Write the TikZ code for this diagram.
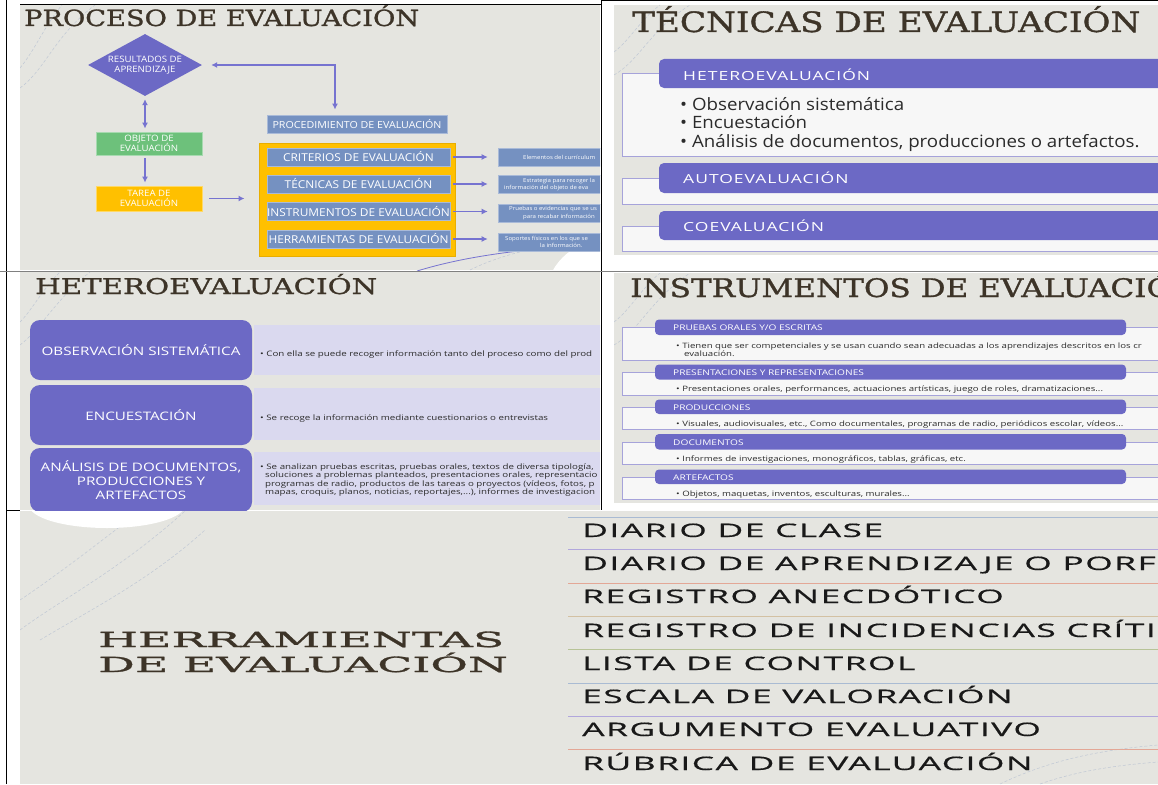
\documentclass[tikz,border=0pt]{standalone}
\usepackage{fontspec}
\setmainfont{Open Sans}
\newfontfamily\ttlA[FakeStretch=1.22,FakeBold=1.2]{DejaVu Serif}
\newfontfamily\ttlB[FakeStretch=1.35,FakeBold=1.2]{DejaVu Serif}
\newfontfamily\ttlC[FakeStretch=2.2,FakeBold=1.4]{DejaVu Serif}
\newfontfamily\sfA[FakeStretch=1.1]{Open Sans}
\newfontfamily\capsA[FakeStretch=1.4,LetterSpace=8]{Open Sans}
\newfontfamily\sfB[FakeStretch=1.3]{Open Sans}
\newfontfamily\listsf[FakeStretch=1.9,LetterSpace=8,FakeBold=0.6]{Open Sans}
\usetikzlibrary{shapes.geometric,arrows.meta}
\definecolor{slidebg}{HTML}{E5E5E0}
\definecolor{moradoa}{HTML}{6C69C5}
\definecolor{lavanda}{HTML}{DAD9EF}
\definecolor{azulcaja}{HTML}{7591C1}
\definecolor{azulborde}{HTML}{A9BAD8}
\definecolor{verde}{HTML}{6DC17B}
\definecolor{oro}{HTML}{FFC000}
\definecolor{oroborde}{HTML}{E8AE00}
\definecolor{cafe}{HTML}{3D3428}
\definecolor{flecha}{HTML}{7673D0}
\definecolor{contorno}{HTML}{A6A3DA}
\definecolor{texto}{HTML}{2B2B2B}
\definecolor{deco}{HTML}{BFC7D4}
\definecolor{lineaA}{HTML}{A9BBD3}
\definecolor{lineaB}{HTML}{B1A7DC}
\definecolor{lineaC}{HTML}{E3A796}
\definecolor{lineaD}{HTML}{D3C1A3}
\definecolor{lineaE}{HTML}{B7C397}

\begin{document}
\begin{tikzpicture}[x=1pt,y=-1pt,
  slide/.style={fill=slidebg},
  ttl/.style={anchor=base west,inner sep=0pt,text=cafe},
  deco/.style={draw=deco,line width=.5pt,dash pattern=on 3pt off 2pt},
  caja/.style={fill=azulcaja,draw=azulborde,line width=.8pt,text=white,inner sep=0pt,minimum width=183pt,minimum height=18pt,font=\sfA\fontsize{10.8}{12}\selectfont},
  desc/.style={fill=azulcaja,draw=azulborde,line width=.6pt,minimum width=118pt,minimum height=18pt,inner sep=0pt},
  mini/.style={anchor=base west,inner sep=0pt,text=white,font=\sfA\fontsize{5.5}{6}\selectfont},
  arr/.style={draw=flecha,line width=1.3pt,-{Latex[length=6pt,width=6pt]}},
  arrdos/.style={draw=flecha,line width=1.3pt,{Latex[length=6pt,width=6pt]}-{Latex[length=6pt,width=6pt]}},
  marco/.style={fill=white!97!black,draw=contorno,line width=.7pt},
  cabecera/.style={fill=moradoa,rounded corners=5pt},
  cabtexto/.style={anchor=base west,inner sep=0pt,text=white},
  cuerpo/.style={anchor=base west,inner sep=0pt,text=texto},
  bloque/.style={fill=moradoa,rounded corners=10pt,text=white,align=center,inner sep=0pt,minimum width=222pt,font=\sfB\fontsize{11.7}{14}\selectfont},
  itemlista/.style={anchor=base west,inner sep=0pt,text=black!90,font=\listsf\fontsize{18.6}{20}\selectfont}]

\fill[white] (0,0) rectangle (1158,784);
\useasboundingbox (0,0) rectangle (1158,784);

% proceso de evaluacion
\fill[slide] (20,5) rectangle (600,270);
\begin{scope}
\clip (20,5) rectangle (600,270);
\draw[deco] (20,88) .. controls (45,70) and (55,35) .. (95,5);
\draw[deco] (20,68) .. controls (35,50) and (45,25) .. (62,5);
\draw[deco] (470,270) .. controls (500,255) and (540,245) .. (600,238);
\fill[white] (605,300) circle (60);
\draw[flecha,line width=.8pt] (417,271) .. controls (470,255) and (520,250) .. (600,243);
\node[ttl,font=\ttlA\fontsize{22.3}{26}\selectfont] (tl-titulo) at (24,26) {PROCESO DE EVALUACIÓN};
\node[diamond,aspect=1.84,fill=moradoa,minimum width=114pt,minimum height=62pt,inner sep=0pt,text=white,align=center,font=\sfA\fontsize{8.8}{10}\selectfont] (res) at (145,65) {RESULTADOS DE\\APRENDIZAJE};
\node[fill=verde,draw=verde!60!white,line width=.8pt,minimum width=106pt,minimum height=23pt,inner sep=0pt,text=white,align=center,font=\sfA\fontsize{8.8}{10}\selectfont] (obj) at (149,143.5) {OBJETO DE\\EVALUACIÓN};
\node[fill=oro,draw=oro!60!white,line width=.8pt,minimum width=106pt,minimum height=25pt,inner sep=0pt,text=white,align=center,font=\sfA\fontsize{8.8}{10}\selectfont] (tarea) at (149,198.5) {TAREA DE\\EVALUACIÓN};
\node[caja,minimum width=180pt,font=\sfA\fontsize{9.7}{11}\selectfont] (proc) at (357,124) {PROCEDIMIENTO DE EVALUACIÓN};
\node[fill=oro,draw=oroborde,line width=1pt,minimum width=196pt,minimum height=113pt,inner sep=0pt] (panel) at (357,199.5) {};
\node[caja] (crit) at (358.5,157) {CRITERIOS DE EVALUACIÓN};
\node[caja] (tec) at (358.5,184) {TÉCNICAS DE EVALUACIÓN};
\node[caja] (inst) at (358.5,211.5) {INSTRUMENTOS DE EVALUACIÓN};
\node[caja] (herr) at (358.5,239) {HERRAMIENTAS DE EVALUACIÓN};
\node[desc] (d1) at (557,157) {};
\node[desc] (d2) at (557,184) {};
\node[desc] (d3) at (557,213) {};
\node[desc] (d4) at (557,242) {};
\node[mini] (d1a) at (523,159) {Elementos del currículum};
\node[mini] (d2a) at (523,182) {Estrategia para recoger la};
\node[mini] (d2b) at (504,189) {información del objeto de eva};
\node[mini] (d3a) at (509,210.5) {Pruebas o evidencias que se us};
\node[mini] (d3b) at (523,218) {para recabar información};
\node[mini] (d4a) at (505,240) {Soportes físicos en los que se};
\node[mini] (d4b) at (540,247.5) {la información.};
\draw[arrdos,shorten <=3pt,shorten >=3pt] (res.south) -- (res.south |- obj.north);
\draw[arr,shorten <=3pt,shorten >=3pt] (res.south |- obj.south) -- (res.south |- tarea.north);
\draw[arr,shorten <=7pt,shorten >=14pt] (tarea.east) -- (tarea.east -| panel.west);
\draw[arrdos,shorten <=9pt,shorten >=5pt] (res.east) -| ([xshift=-22pt]proc.north);
\draw[arr,shorten <=3pt,shorten >=10pt] (crit.east) -- (d1.west);
\draw[arr,shorten <=3pt,shorten >=10pt] (tec.east) -- (d2.west);
\draw[arr,shorten <=3pt,shorten >=10pt] (inst.east) -- (inst.east -| d3.west);
\draw[arr,shorten <=3pt,shorten >=10pt] (herr.east) -- (herr.east -| d4.west);
\end{scope}

% tecnicas
\fill[slide] (614,5) rectangle (1158,255);
\begin{scope}
\clip (614,5) rectangle (1158,255);
\draw[deco] (614,75) .. controls (640,60) and (650,30) .. (690,5);
\draw[deco] (614,52) .. controls (630,40) and (640,20) .. (660,5);
\node[ttl,font=\ttlA\fontsize{28}{32}\selectfont] (tr-titulo) at (632,32) {TÉCNICAS DE EVALUACIÓN};
\draw[marco] (622,73) rectangle (1170,156);
\fill[cabecera] (659,59) rectangle (1180,88);
\draw[marco] (622,178) rectangle (1170,204);
\fill[cabecera] (659,163) rectangle (1180,193);
\draw[marco] (622,226) rectangle (1170,251);
\fill[cabecera] (659,211) rectangle (1180,240);
\node[cabtexto,font=\capsA\fontsize{12.5}{14}\selectfont] (hetero) at (683,80) {HETEROEVALUACIÓN};
\node[cabtexto,font=\capsA\fontsize{12.5}{14}\selectfont] (auto) at (683,183) {AUTOEVALUACIÓN};
\node[cabtexto,font=\capsA\fontsize{12.5}{14}\selectfont] (coev) at (683,231) {COEVALUACIÓN};
\node[cuerpo,font=\sfA\fontsize{17}{19}\selectfont] (obs) at (680,110) {• Observación sistemática};
\node[cuerpo,font=\sfA\fontsize{17}{19}\selectfont] (enc) at (680,128.5) {• Encuestación};
\node[cuerpo,font=\sfA\fontsize{17}{19}\selectfont] (ana) at (680,147) {• Análisis de documentos, producciones o artefactos.};
\end{scope}

% heteroevaluacion
\fill[slide] (20,272) rectangle (600,510);
\begin{scope}
\clip (20,272) rectangle (600,510);
\draw[deco] (20,345) .. controls (40,330) and (55,300) .. (90,272);
\draw[deco] (20,322) .. controls (32,310) and (42,290) .. (60,272);
\node[ttl,font=\ttlB\fontsize{21.7}{26}\selectfont] (ml-titulo) at (35,294) {HETEROEVALUACIÓN};
\fill[lavanda] (254,325) rectangle (610,375);
\fill[lavanda] (254,388) rectangle (610,440);
\fill[lavanda] (254,452) rectangle (610,505);
\node[bloque,minimum height=60pt] (b-obs) at (141,350) {OBSERVACIÓN SISTEMÁTICA};
\node[bloque,minimum height=60pt] (b-enc) at (141,415) {ENCUESTACIÓN};
\node[bloque,minimum height=64pt] (b-ana) at (141,480) {ANÁLISIS DE DOCUMENTOS,\\PRODUCCIONES Y\\ARTEFACTOS};
\node[cuerpo,font=\sfB\fontsize{7.5}{8.3}\selectfont] (t-obs) at (260,356) {• Con ella se puede recoger información tanto del proceso como del prod};
\node[cuerpo,font=\sfB\fontsize{7.5}{8.3}\selectfont] (t-enc) at (260,420) {• Se recoge la información mediante cuestionarios o entrevistas};
\node[cuerpo,anchor=north west,align=left,font=\sfB\fontsize{7.5}{8.3}\selectfont] (t-ana) at (260,463.5) {• Se analizan pruebas escritas, pruebas orales, textos de diversa tipología,\\
\hspace*{5pt}soluciones a problemas planteados, presentaciones orales, representacio\\
\hspace*{5pt}programas de radio, productos de las tareas o proyectos (vídeos, fotos, p\\
\hspace*{5pt}mapas, croquis, planos, noticias, reportajes,...), informes de investigacion};
\end{scope}

% instrumentos
\fill[slide] (614,273) rectangle (1158,503);
\begin{scope}
\clip (614,273) rectangle (1158,503);
\draw[deco] (614,345) .. controls (640,330) and (650,300) .. (690,273);
\draw[deco] (614,322) .. controls (630,310) and (640,290) .. (660,273);
\node[ttl,font=\ttlA\fontsize{25.5}{28}\selectfont] (mr-titulo) at (630,297) {INSTRUMENTOS DE EVALUACIÓ};
\draw[marco] (622,327) rectangle (1170,360);
\fill[cabecera,rounded corners=4pt] (655,319.5) rectangle (1126,335);
\draw[marco] (622,372) rectangle (1170,395);
\fill[cabecera,rounded corners=4pt] (655,364.5) rectangle (1126,379.5);
\draw[marco] (622,407) rectangle (1170,429);
\fill[cabecera,rounded corners=4pt] (655,399.5) rectangle (1126,414);
\draw[marco] (622,442) rectangle (1170,464);
\fill[cabecera,rounded corners=4pt] (655,434) rectangle (1126,449.5);
\draw[marco] (622,477) rectangle (1170,499);
\fill[cabecera,rounded corners=4pt] (655,469.5) rectangle (1126,484);
\node[cabtexto,font=\sfB\fontsize{7.8}{9}\selectfont] (pruebas) at (673,330.5) {PRUEBAS ORALES Y/O ESCRITAS};
\node[cabtexto,font=\sfB\fontsize{7.8}{9}\selectfont] (present) at (673,375) {PRESENTACIONES Y REPRESENTACIONES};
\node[cabtexto,font=\sfB\fontsize{7.8}{9}\selectfont] (produc) at (673,410) {PRODUCCIONES};
\node[cabtexto,font=\sfB\fontsize{7.8}{9}\selectfont] (docum) at (673,445) {DOCUMENTOS};
\node[cabtexto,font=\sfB\fontsize{7.8}{9}\selectfont] (artef) at (673,480) {ARTEFACTOS};
\node[cuerpo,font=\sfB\fontsize{7.4}{8.3}\selectfont] (t-pruebas) at (676,348) {• Tienen que ser competenciales y se usan cuando sean adecuadas a los aprendizajes descritos en los cr};
\node[cuerpo,font=\sfB\fontsize{7.4}{8.3}\selectfont] (t-pruebas2) at (684,356.5) {evaluación.};
\node[cuerpo,font=\sfB\fontsize{7.4}{8.3}\selectfont] (t-present) at (676,391) {• Presentaciones orales, performances, actuaciones artísticas, juego de roles, dramatizaciones...};
\node[cuerpo,font=\sfB\fontsize{7.4}{8.3}\selectfont] (t-produc) at (676,426) {• Visuales, audiovisuales, etc., Como documentales, programas de radio, periódicos escolar, vídeos...};
\node[cuerpo,font=\sfB\fontsize{7.4}{8.3}\selectfont] (t-docum) at (676,461) {• Informes de investigaciones, monográficos, tablas, gráficas, etc.};
\node[cuerpo,font=\sfB\fontsize{7.4}{8.3}\selectfont] (t-artef) at (676,496) {• Objetos, maquetas, inventos, esculturas, murales...};
\end{scope}

% herramientas
\fill[slide] (20,511) rectangle (1158,784);
\begin{scope}
\clip (20,511) rectangle (1158,784);
\draw[deco] (20,630) .. controls (60,600) and (120,570) .. (185,511);
\draw[deco] (20,600) .. controls (50,580) and (90,550) .. (140,511);
\draw[deco] (40,640) .. controls (90,610) and (150,580) .. (205,530);
\fill[white] (107,505) ellipse (78 and 23);
\draw[deco] (1000,784) .. controls (1050,760) and (1100,750) .. (1158,745);
\draw[deco] (1040,784) .. controls (1080,770) and (1120,765) .. (1158,762);
\node[ttl,font=\ttlC\fontsize{20.8}{26}\selectfont] (b-titulo1) at (98,647) {HERRAMIENTAS};
\node[ttl,font=\ttlC\fontsize{20.8}{26}\selectfont] (b-titulo2) at (98,672) {DE EVALUACIÓN};
\draw[lineaA,line width=.7pt] (568,517) -- (1158,517);
\draw[lineaB,line width=.7pt] (568,549.5) -- (1158,549.5);
\draw[lineaC,line width=.7pt] (568,583) -- (1158,583);
\draw[lineaD,line width=.7pt] (568,616) -- (1158,616);
\draw[lineaE,line width=.7pt] (568,649) -- (1158,649);
\draw[lineaA,line width=.7pt] (568,683) -- (1158,683);
\draw[lineaB,line width=.7pt] (568,716) -- (1158,716);
\draw[lineaC,line width=.7pt] (568,749) -- (1158,749);
\node[itemlista] (h1) at (582,537) {DIARIO DE CLASE};
\node[itemlista] (h2) at (582,570) {DIARIO DE APRENDIZAJE O PORF};
\node[itemlista] (h3) at (582,603) {REGISTRO ANECDÓTICO};
\node[itemlista] (h4) at (582,637) {REGISTRO DE INCIDENCIAS CRÍTIC};
\node[itemlista] (h5) at (582,670) {LISTA DE CONTROL};
\node[itemlista] (h6) at (582,703) {ESCALA DE VALORACIÓN};
\node[itemlista] (h7) at (582,736) {ARGUMENTO EVALUATIVO};
\node[itemlista] (h8) at (582,770) {RÚBRICA DE EVALUACIÓN};
\end{scope}

\draw[line width=1pt] (6.5,0) -- (6.5,784);
\draw[line width=1pt] (6.5,510.5) -- (20,510.5);
\draw[line width=1pt] (601,0) -- (601,510);
\draw[line width=1pt] (20,4.5) -- (601,4.5);
\draw[line width=1pt] (601,1) -- (1158,1);
\draw[gray,line width=1pt] (0,271) -- (1158,271);
\end{tikzpicture}
\end{document}
